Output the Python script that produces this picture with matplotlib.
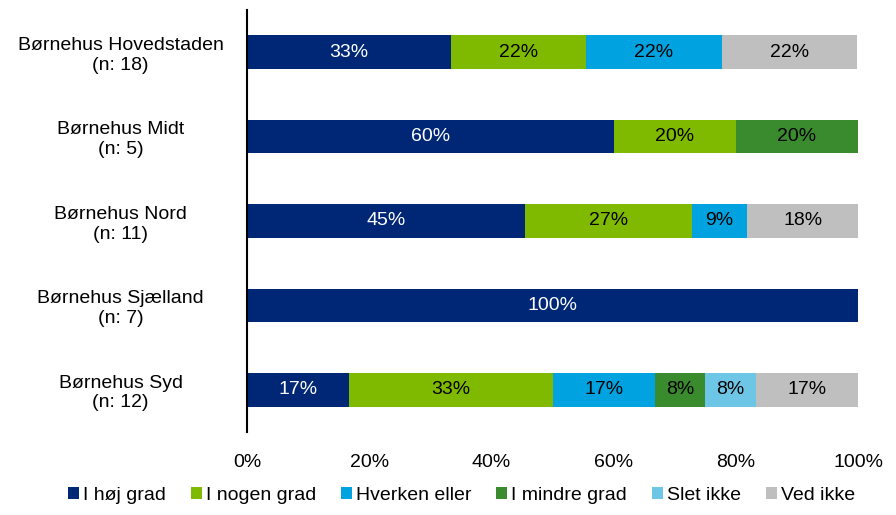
import numpy as np
import matplotlib.pyplot as plt
from matplotlib.ticker import PercentFormatter

plt.rcParams['font.family'] = ['Liberation Sans', 'DejaVu Sans']

categories = ['Børnehus Hovedstaden\n(n: 18)', 'Børnehus Midt\n(n: 5)', 'Børnehus Nord\n(n: 11)',
              'Børnehus Sjælland\n(n: 7)', 'Børnehus Syd\n(n: 12)']
series = ['I høj grad', 'I nogen grad', 'Hverken eller', 'I mindre grad', 'Slet ikke', 'Ved ikke']
values = [
    [33.3, 60.0, 45.45, 100.0, 16.7],  # I høj grad
    [22.2, 20.0, 27.3, 0.0, 33.3],     # I nogen grad
    [22.2, 0.0, 9.1, 0.0, 16.7],       # Hverken eller
    [0.0, 20.0, 0.0, 0.0, 8.3],        # I mindre grad
    [0.0, 0.0, 0.0, 0.0, 8.3],         # Slet ikke
    [22.2, 0.0, 18.2, 0.0, 16.7],      # Ved ikke
]
colors = ['#002776', '#7FBA00', '#00A3E0', '#3A8A2E', '#6EC6E6', '#BFBFBF']
text_colors = ['white', 'black', 'black', 'black', 'black', 'black']

fig = plt.figure(figsize=(8.96, 5.15), dpi=100)
ax = fig.add_axes([0.2757, 0.161, 0.682, 0.82])

y = np.arange(len(categories))
left = np.zeros(len(categories))
for name, vals, col, tcol in zip(series, values, colors, text_colors):
    vals = np.array(vals)
    ax.barh(y, vals, left=left, height=0.4, color=col, label=name)
    for yi, l, v in zip(y, left, vals):
        if v > 0:
            ax.text(l + v / 2, yi, f'{v:.0f}%', ha='center', va='center', color=tcol, fontsize=14)
    left += vals

ax.set_xlim(0, 100)
ax.set_ylim(len(categories) - 0.5, -0.5)
ax.set_yticks(y)
ax.set_yticklabels(categories, fontsize=14, ha='center')
ax.tick_params(axis='y', length=0, pad=91)
ax.set_xticks(np.arange(0, 101, 20))
ax.xaxis.set_major_formatter(PercentFormatter(decimals=0))
ax.tick_params(axis='x', length=0, labelsize=14, pad=16)
for s in ['top', 'right', 'bottom']:
    ax.spines[s].set_visible(False)
ax.spines['left'].set_linewidth(1.5)

ax.legend(loc='lower center', bbox_to_anchor=(0.515, -0.012), bbox_transform=fig.transFigure,
          ncol=6, frameon=False, fontsize=14,
          handlelength=0.55, handleheight=0.55, handletextpad=0.2, columnspacing=1.3)

fig.savefig('out.png', dpi=100)
